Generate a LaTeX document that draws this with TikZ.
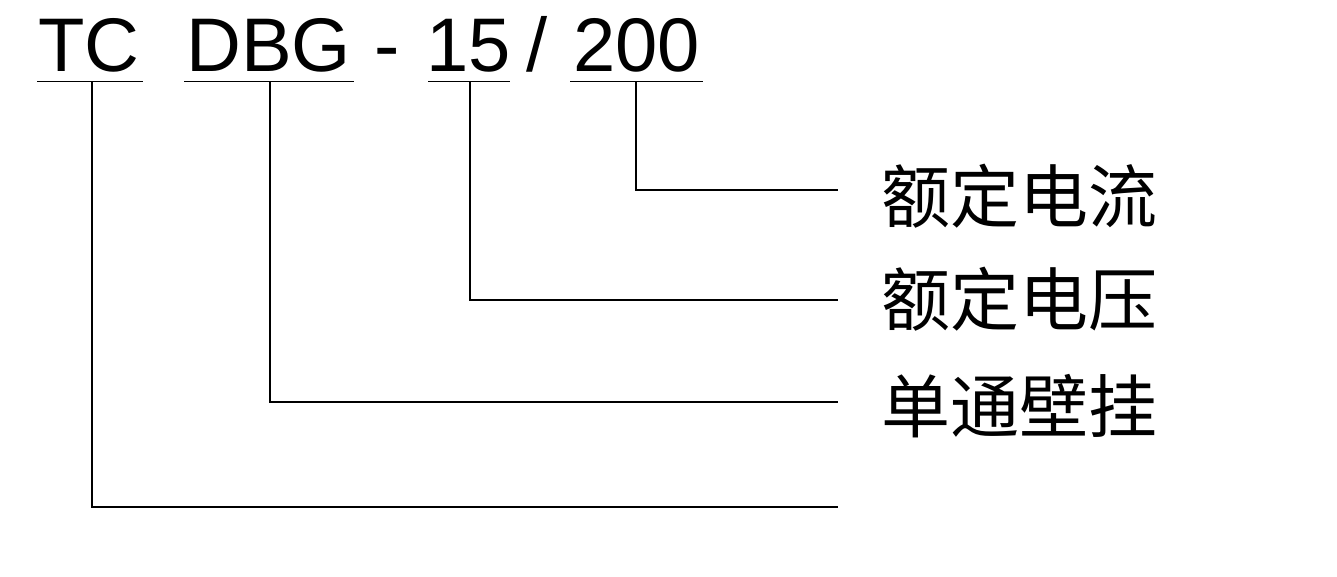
\documentclass[tikz,border=0pt]{standalone}
\usepackage{fontspec}
\setmainfont{Liberation Sans}
\newfontfamily\cjk{Noto Sans CJK SC}
\begin{document}
\begin{tikzpicture}[x=1pt,y=-1pt,
  code/.style={font=\fontsize{76}{76}\selectfont, inner sep=0pt, anchor=base},
  lab/.style={font=\cjk\fontsize{69}{69}\selectfont, inner sep=0pt, anchor=west},
  ul/.style={line width=1.6pt},
  conn/.style={line width=1.6pt}]
\useasboundingbox (0,0) rectangle (1337,577);
% code text
\node[code] (tc)  at (89,71.5)    {TC};
\node[code] (dbg) at (268.5,71.5) {DBG};
\node[code] (dash) at (387,71.5)  {-};
\node[code] (v)   at (469,71.5)   {15};
\node[code] (sl)  at (537,71.5)   {/};
\node[code] (a)   at (636.5,71.5) {200};
% underlines
\coordinate (u1) at (92,81.5);
\coordinate (u2) at (270,81.5);
\coordinate (u3) at (470,81.5);
\coordinate (u4) at (636,81.5);
\draw[ul] (37,81.5) -- (143,81.5);
\draw[ul] (184,81.5) -- (354,81.5);
\draw[ul] (428,81.5) -- (510,81.5);
\draw[ul] (570,81.5) -- (703,81.5);
% line ends
\coordinate (e4) at (838,190);
\coordinate (e3) at (838,300);
\coordinate (e2) at (838,402);
\coordinate (e1) at (838,507);
% labels
\node[lab] (l4) at (881,196) {额定电流};
\node[lab] (l3) at (881,299) {额定电压};
\node[lab] (l2) at (881,406) {单通壁挂};
% connectors
\draw[conn] (u4) |- (e4);
\draw[conn] (u3) |- (e3);
\draw[conn] (u2) |- (e2);
\draw[conn] (u1) |- (e1);
\end{tikzpicture}
\end{document}
